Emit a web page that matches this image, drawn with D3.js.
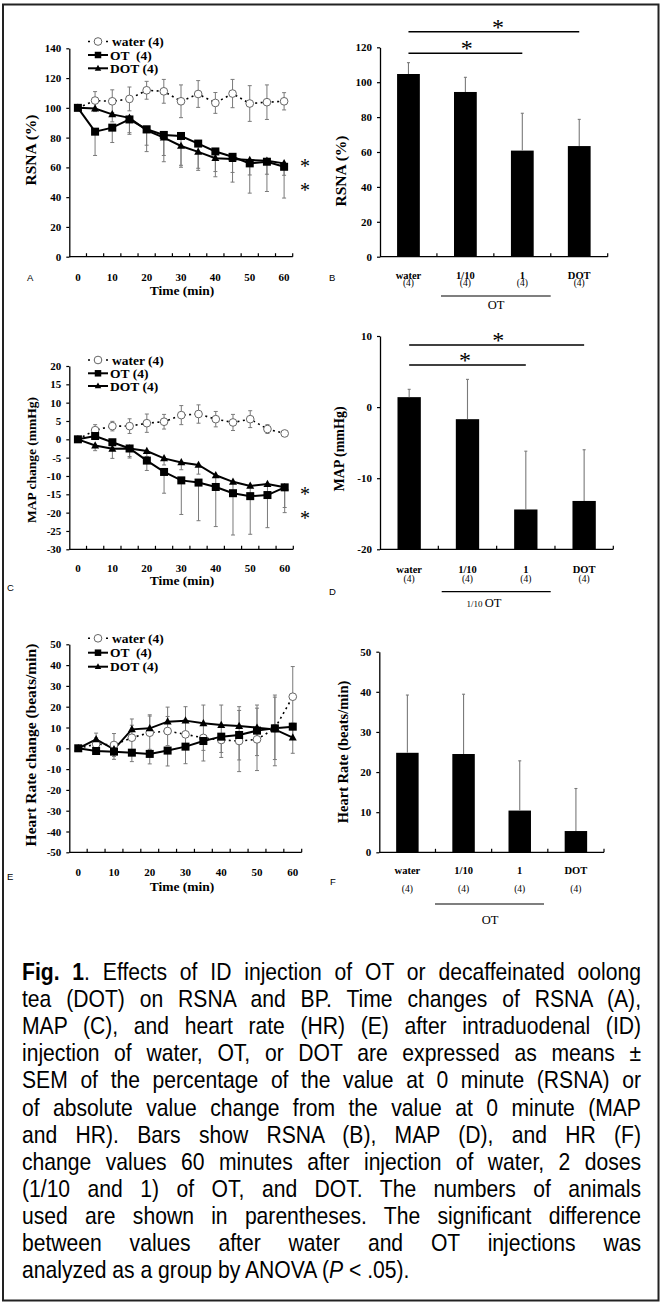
<!DOCTYPE html>
<html><head><meta charset="utf-8">
<script src="https://cdn.jsdelivr.net/npm/d3@7"></script>
<style>body{margin:0;background:#fff}svg{display:block}</style>
</head><body><div id="chart"></div>
<script>
// ---------- data ----------
const times = [0,5,10,15,20,25,30,35,40,45,50,55,60];
const timeLabels = [0,10,20,30,40,50,60];
const legendA = ["water (4)","OT  (4)","DOT (4)"];
const legendC = ["water (4)","OT (4)","DOT (4)"];
const legendE = ["water (4)","OT  (4)","DOT (4)"];

const rsnaWater    = [100,104.9,104.4,106,111.8,111.1,104.4,109.3,103.3,109.6,102.9,103.8,104.4];
const rsnaWaterErr = [0,6,7.7,8,6,8,11,9,7,9.5,12,11.6,5.8];
const rsnaOT       = [100,84,86.7,92.2,85.6,81.8,81.1,76,70.7,67.1,62.7,63.8,60.4];
const rsnaOTErr    = [0,16,10,10,15,18,21,18,17,17,20,20,21];
const rsnaDOT      = [100,99.5,95.6,93.3,84.9,80,74.4,70.4,66.2,65.6,64.9,64.4,62.7];
const rsnaDOTErr   = [0,2,5,10,10,12,13,11,9,9,10,9,8];

const mapWater     = [0,2.5,3.6,3.6,4.4,4.8,6.6,6.9,5.5,4.6,5.5,2.8,1.6];
const mapWaterErr  = [0,1.5,1.3,2,2.5,2,2.6,2.5,2.1,2.2,2.3,1.2,0.5];
const mapOT        = [0,0.9,-0.8,-2.5,-5.8,-8.9,-11.2,-11.8,-13,-14.7,-15.5,-15.2,-13.1];
const mapOTErr     = [0,0.8,1.5,2.6,2.7,5.8,9.3,10.4,10.8,11.4,10.4,8.9,6.9];
const mapDOT       = [0,-1.7,-2.6,-2.5,-3.2,-5.2,-6.3,-7,-9.8,-11.6,-12.7,-12.2,-13.1];
const mapDOTErr    = [0,1.4,2.6,2.2,1.5,1.8,2,2.5,3,3,3,3,5.5];

const hrWater      = [0,2,1.6,5.1,7.5,8.3,6.7,5,4,3.5,4.3,9.6,24.8];
const hrWaterErr   = [0,3,5.5,6,8,7,7,6,6,14.7,15,15,14.5];
const hrOT         = [0,-1.3,-1.6,-2.1,-2.7,-1.1,0.8,3.5,5.6,6.4,8.5,9.6,10.4];
const hrOTErr      = [0,1,3.7,4.3,4.8,7.4,8.2,9.6,10,12,12,18,12.8];
const hrDOT        = [0,4.3,-0.5,9.1,9.6,12.8,13.3,12,11.2,10.7,9.9,9.1,5.1];
const hrDOTErr     = [0,3,1,5,6.5,7,6.7,8.8,9.6,9.3,10.9,16.5,7];

const barCats = ["water","1/10","1","DOT"];
const barN = ["(4)","(4)","(4)","(4)"];
const rsnaBar = [104.7,94.4,60.8,63.4];
const rsnaBarErr = [6.5,8.4,21.4,15.3];
const mapBar = [1.4,-1.7,-14.4,-13.2];
const mapBarErr = [1.1,5.6,8.2,7.2];
const hrBar = [24.8,24.5,10.4,5.3];
const hrBarErr = [14.4,14.9,12.4,10.6];

const rsnaTicks = [0,20,40,60,80,100,120,140];
const mapTicks = [-30,-25,-20,-15,-10,-5,0,5,10,15,20];
const hrTicks = [-50,-40,-30,-20,-10,0,10,20,30,40,50];
const rsnaBarTicks = [0,20,40,60,80,100,120];
const mapBarTicks = [-20,-10,0,10];
const hrBarTicks = [0,10,20,30,40,50];

const sigPairs = [["water","1"],["water","DOT"]];

const captionLines = [
  ["Fig. 1", ". Effects of ID injection of OT or decaffeinated oolong"],
  ["", "tea (DOT) on RSNA and BP. Time changes of RSNA (A),"],
  ["", "MAP (C), and heart rate (HR) (E) after intraduodenal (ID)"],
  ["", "injection of water, OT, or DOT are expressed as means \u00b1"],
  ["", "SEM of the percentage of the value at 0 minute (RSNA) or"],
  ["", "of absolute value change from the value at 0 minute (MAP"],
  ["", "and HR). Bars show RSNA (B), MAP (D), and HR (F)"],
  ["", "change values 60 minutes after injection of water, 2 doses"],
  ["", "(1/10 and 1) of OT, and DOT. The numbers of animals"],
  ["", "used are shown in parentheses. The significant difference"],
  ["", "between values after water and OT injections was"],
  ["", "analyzed as a group by ANOVA ("]
];

// ---------- drawing ----------
const SERIF = "'Liberation Serif','Times New Roman',serif";
const SANS = "'Liberation Sans',Arial,sans-serif";
const ERR = "#7a7a7a";

const svg = d3.select("#chart").append("svg").attr("width",662).attr("height",1304);
svg.append("rect").attr("x",3).attr("y",4.5).attr("width",655.5).attr("height",1296)
  .attr("fill","none").attr("stroke","#222").attr("stroke-width",2);

function yAxis(g, y, x0, ticks){
  const a = g.append("g").attr("transform",`translate(${x0},0)`)
    .call(d3.axisLeft(y).tickValues(ticks).tickSize(3).tickSizeOuter(0).tickPadding(5).tickFormat(d=>String(d)));
  a.select(".domain").attr("stroke","#000").attr("stroke-width",1.3);
  a.selectAll(".tick line").attr("stroke","#000").attr("stroke-width",1.2);
  a.selectAll("text").attr("font-family",SERIF).attr("font-weight","bold").attr("font-size",11).attr("fill","#000");
}

function marker(g, type, cx, cy, s){
  if(type==="circle"){
    g.append("circle").attr("cx",cx).attr("cy",cy).attr("r",s*0.48).attr("fill","#fff").attr("stroke","#666").attr("stroke-width",1);
  } else if(type==="square"){
    g.append("rect").attr("x",cx-s/2).attr("y",cy-s/2).attr("width",s).attr("height",s).attr("fill","#000");
  } else {
    const h=s*0.9;
    g.append("path").attr("d",`M${cx},${cy-h*0.6}L${cx+s/2},${cy+h*0.4}L${cx-s/2},${cy+h*0.4}Z`).attr("fill","#000");
  }
}

function errBars(g, x, y, vals, errs, dir){
  vals.forEach((v,i)=>{
    if(!errs[i]) return;
    const cx = x(times[i]) + x.bandwidth()/2;
    const ends = [];
    if(dir==="up"||dir==="both") ends.push(v+errs[i]);
    if(dir==="down"||dir==="both") ends.push(v-errs[i]);
    ends.forEach(e=>{
      g.append("line").attr("x1",cx).attr("x2",cx).attr("y1",y(v)).attr("y2",y(e)).attr("stroke",ERR).attr("stroke-width",1);
      g.append("line").attr("x1",cx-2).attr("x2",cx+2).attr("y1",y(e)).attr("y2",y(e)).attr("stroke",ERR).attr("stroke-width",1);
    });
  });
}

function linePanel(c){
  const g = svg.append("g");
  const x = d3.scaleBand().domain(times).range([c.x0,c.x1]);
  const y = d3.scaleLinear().domain(c.domain).range([c.yb,c.yt]);
  const cx = t => x(t)+x.bandwidth()/2;
  yAxis(g,y,c.x0,c.ticks);
  g.append("line").attr("x1",c.x0).attr("x2",c.x1).attr("y1",c.yb).attr("y2",c.yb).attr("stroke","#000").attr("stroke-width",1.3);
  g.selectAll(null).data(times).join("line")
    .attr("x1",t=>x(t)+x.bandwidth()).attr("x2",t=>x(t)+x.bandwidth())
    .attr("y1",c.yb).attr("y2",c.yb-3.5).attr("stroke","#000").attr("stroke-width",1.2);
  g.selectAll(null).data(timeLabels).join("text")
    .attr("x",t=>cx(t)).attr("y",c.tickY).attr("text-anchor","middle")
    .attr("font-family",SERIF).attr("font-weight","bold").attr("font-size",11).text(t=>t);
  g.append("text").attr("x",c.titleX).attr("y",c.titleY).attr("text-anchor","middle")
    .attr("font-family",SERIF).attr("font-weight","bold").attr("font-size",13.5).text("Time (min)");
  g.append("text").attr("transform",`translate(${c.ylx},${c.yly}) rotate(-90)`).attr("text-anchor","middle")
    .attr("dominant-baseline","central")
    .attr("font-family",SERIF).attr("font-weight","bold").attr("font-size",c.ylSize).text(c.yLabel);
  g.append("text").attr("x",c.letterX).attr("y",c.letterY).attr("font-family",SANS).attr("font-size",9.5).text(c.letter);

  errBars(g,x,y,c.water,c.waterErr,"both");
  errBars(g,x,y,c.ot,c.otErr,c.otDir);
  errBars(g,x,y,c.dot,c.dotErr,c.dotDir);
  const ln = vals => d3.line().x((d,i)=>cx(times[i])).y(d=>y(d))(vals);
  g.append("path").attr("d",ln(c.water)).attr("fill","none").attr("stroke","#000").attr("stroke-width",1.6).attr("stroke-dasharray","2,3.5");
  g.append("path").attr("d",ln(c.dot)).attr("fill","none").attr("stroke","#000").attr("stroke-width",2);
  g.append("path").attr("d",ln(c.ot)).attr("fill","none").attr("stroke","#000").attr("stroke-width",2);
  c.water.forEach((v,i)=>{ if(i>0) marker(g,"circle",cx(times[i]),y(v),8); });
  c.dot.forEach((v,i)=>marker(g,"tri",cx(times[i]),y(v),8));
  c.ot.forEach((v,i)=>marker(g,"square",cx(times[i]),y(v),8));

  const types = ["circle","square","tri"];
  c.legend.forEach((name,i)=>{
    const ly = c.legY[i], lx = c.legX;
    const l = g.append("line").attr("x1",lx).attr("x2",lx+20).attr("y1",ly).attr("y2",ly).attr("stroke","#000");
    if(i===0) l.attr("stroke-width",1.5).attr("stroke-dasharray","2,4"); else l.attr("stroke-width",2);
    marker(g,types[i],lx+10,ly,i===0?8:6.5);
    g.append("text").attr("x",lx+(i===0?24:22)).attr("y",ly+4.5).attr("font-family",SERIF).attr("font-weight","bold")
      .attr("font-size",13.5).style("white-space","pre").text(name);
  });
  (c.stars||[]).forEach(s=>{
    g.append("text").attr("x",s[0]).attr("y",s[1]+9.5).attr("text-anchor","middle")
      .attr("font-family",SERIF).attr("font-size",20).text("*");
  });
}

function barPanel(c){
  const g = svg.append("g");
  const x = d3.scaleBand().domain(barCats).range([c.x0,c.x1]);
  const y = d3.scaleLinear().domain(c.domain).range([c.yb,c.yt]);
  const cx = k => x(k)+x.bandwidth()/2;
  const bw = x.bandwidth()*0.4;
  yAxis(g,y,c.x0,c.ticks);
  g.selectAll(null).data(c.vals).join("rect")
    .attr("x",(d,i)=>cx(barCats[i])-bw/2).attr("width",bw)
    .attr("y",d=>y(d)).attr("height",d=>c.yb-y(d)).attr("fill","#000");
  c.vals.forEach((v,i)=>{
    const xx = cx(barCats[i]);
    g.append("line").attr("x1",xx).attr("x2",xx).attr("y1",y(v)).attr("y2",y(v+c.errs[i])).attr("stroke",ERR).attr("stroke-width",1.1);
    g.append("line").attr("x1",xx-1.5).attr("x2",xx+1.5).attr("y1",y(v+c.errs[i])).attr("y2",y(v+c.errs[i])).attr("stroke",ERR).attr("stroke-width",1.1);
  });
  g.append("line").attr("x1",c.x0).attr("x2",c.x1).attr("y1",c.yb).attr("y2",c.yb).attr("stroke","#000").attr("stroke-width",1.3);
  g.selectAll(null).data(barCats).join("line")
    .attr("x1",k=>x(k)+x.bandwidth()).attr("x2",k=>x(k)+x.bandwidth())
    .attr("y1",c.yb).attr("y2",c.yb-3.5).attr("stroke","#000").attr("stroke-width",1.2);
  g.selectAll(null).data(barCats).join("text").attr("x",k=>cx(k)).attr("y",c.catY).attr("text-anchor","middle")
    .attr("font-family",SERIF).attr("font-weight","bold").attr("font-size",10.5).text(k=>k);
  g.selectAll(null).data(barN).join("text").attr("x",(d,i)=>cx(barCats[i])).attr("y",c.nY).attr("text-anchor","middle")
    .attr("font-family",SERIF).attr("font-size",9.5).text(d=>d);
  g.append("line").attr("x1",c.grp[0]).attr("x2",c.grp[1]).attr("y1",c.grpY).attr("y2",c.grpY).attr("stroke","#000").attr("stroke-width",1.2);
  const gt = g.append("text").attr("x",c.otX).attr("y",c.otY).attr("text-anchor","middle").attr("font-family",SERIF).attr("font-size",12.5);
  if(c.prefix){ gt.append("tspan").attr("font-size",9).text(c.prefix+" "); }
  gt.append("tspan").text("OT");
  g.append("text").attr("transform",`translate(${c.ylx},${c.yly}) rotate(-90)`).attr("text-anchor","middle")
    .attr("dominant-baseline","central")
    .attr("font-family",SERIF).attr("font-weight","bold").attr("font-size",c.ylSize).text(c.yLabel);
  g.append("text").attr("x",c.letterX).attr("y",c.letterY).attr("font-family",SANS).attr("font-size",9.5).text(c.letter);
  if(c.sig){
    sigPairs.forEach((p,i)=>{
      const ly = c.sigY[i];
      g.append("line").attr("x1",cx(p[0])).attr("x2",cx(p[1])).attr("y1",ly).attr("y2",ly).attr("stroke","#000").attr("stroke-width",1.5);
      g.append("text").attr("x",c.starX[i]).attr("y",ly+3).attr("text-anchor","middle").attr("font-family",SERIF).attr("font-size",24).text("*");
    });
  }
}

linePanel({x0:69.3,x1:292.7,yb:256.7,yt:48.3,domain:[0,140],ticks:rsnaTicks,
  water:rsnaWater,waterErr:rsnaWaterErr,ot:rsnaOT,otErr:rsnaOTErr,dot:rsnaDOT,dotErr:rsnaDOTErr,otDir:"down",dotDir:"down",
  tickY:281,titleX:182,titleY:294.5,ylx:30,yly:150,ylSize:15.5,yLabel:"RSNA (%)",letter:"A",letterX:27,letterY:281,
  legend:legendA,legX:88,legY:[41.5,55,68.3],stars:[[305,163],[305,187]]});
linePanel({x0:69.3,x1:293.3,yb:549.3,yt:366,domain:[-30,20],ticks:mapTicks,
  water:mapWater,waterErr:mapWaterErr,ot:mapOT,otErr:mapOTErr,dot:mapDOT,dotErr:mapDOTErr,otDir:"down",dotDir:"down",
  tickY:571.5,titleX:182,titleY:585,ylx:31.5,yly:460,ylSize:13.5,yLabel:"MAP change (mmHg)",letter:"C",letterX:7,letterY:591,
  legend:legendC,legX:88,legY:[360,373.3,386],stars:[[305,491.5],[305,515.5]]});
linePanel({x0:69.3,x1:301.7,yb:852.3,yt:644.3,domain:[-50,50],ticks:hrTicks,
  water:hrWater,waterErr:hrWaterErr,ot:hrOT,otErr:hrOTErr,dot:hrDOT,dotErr:hrDOTErr,otDir:"down",dotDir:"up",
  tickY:875.5,titleX:182,titleY:890.5,ylx:30,yly:745,ylSize:15.5,yLabel:"Heart Rate change (beats/min)",letter:"E",letterX:7,letterY:880,
  legend:legendE,legX:88,legY:[638.3,652.7,666.7],stars:[]});

barPanel({x0:380,x1:607.7,yb:256.7,yt:47.3,domain:[0,120],ticks:rsnaBarTicks,vals:rsnaBar,errs:rsnaBarErr,
  catY:278.5,nY:286,grp:[441,550.7],grpY:296,otX:496,otY:309,ylx:340,yly:171,ylSize:15.5,yLabel:"RSNA (%)",
  letter:"B",letterX:329,letterY:281,sig:true,sigY:[53.3,31.7],starX:[466.7,498]});
barPanel({x0:380,x1:613.3,yb:549.3,yt:336,domain:[-20,10],ticks:mapBarTicks,vals:mapBar,errs:mapBarErr,
  catY:573,nY:582,grp:[441.7,550.7],grpY:591.7,otX:484,otY:607,prefix:"1/10",ylx:339.5,yly:449,ylSize:14,yLabel:"MAP (mmHg)",
  letter:"D",letterX:329,letterY:595,sig:true,sigY:[365,345],starX:[465,498.3]});
barPanel({x0:379.3,x1:604,yb:852.3,yt:651.7,domain:[0,50],ticks:hrBarTicks,vals:hrBar,errs:hrBarErr,
  catY:874,nY:892,grp:[435,544],grpY:904,otX:490,otY:924,ylx:343,yly:752,ylSize:14.5,yLabel:"Heart Rate (beats/min)",
  letter:"F",letterX:330,letterY:885,sig:false});

// caption: condensed sans, justified with word spacing
const SX = 0.88, CAP_W = 619;
const capG = svg.append("g");
captionLines.forEach((ln,i)=>{
  const lg = capG.append("g").attr("transform",`translate(22,${980+i*27.1}) scale(${SX},1)`);
  const t = lg.append("text").attr("x",0).attr("y",0)
    .attr("font-family",SANS).attr("font-size",24).attr("fill","#000").style("white-space","pre");
  if(ln[0]) t.append("tspan").attr("font-weight","bold").text(ln[0]);
  t.append("tspan").text(ln[1]);
  if(i<captionLines.length-1){
    const w = t.node().getComputedTextLength();
    const full = (ln[0]+ln[1]);
    const spaces = (full.match(/ /g)||[]).length;
    const extra = (CAP_W/SX - w)/Math.max(spaces,1);
    t.attr("word-spacing", extra.toFixed(2));
  } else {
    t.append("tspan").attr("font-style","italic").text("P");
    t.append("tspan").text(" < .05).");
  }
});
</script></body></html>
